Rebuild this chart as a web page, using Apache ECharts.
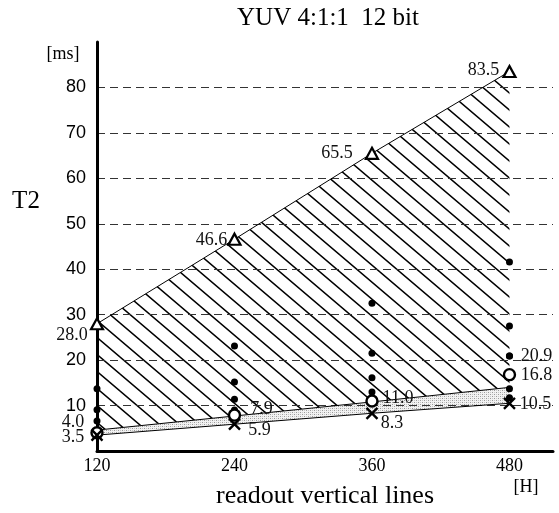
<!DOCTYPE html>
<html><head><meta charset="utf-8">
<script src="https://cdn.jsdelivr.net/npm/echarts@6/dist/echarts.min.js"></script>
<style>html,body{margin:0;padding:0;background:#fff}#c{width:559px;height:513px}</style>
</head><body><div id="c"></div>
<script>
// ---- data ----
const readoutLines = [120, 240, 360, 480];
const triangleT2 = [28.0, 46.6, 65.5, 83.5];
const circleT2 = [4.0, 7.9, 11.0, 16.8];
const crossT2 = [3.5, 5.9, 8.3, 10.5];
const bandTopT2 = [4.6, 7.7, 10.8, 14.0];
const dots120 = [13.7, 9.1, 6.6];
const dots240 = [23.1, 15.2, 11.4, 9.0];
const dots360 = [32.5, 21.5, 16.1, 13.0];
const dots480 = [41.6, 27.5, 20.9, 13.7, 11.7];
const labeledDot = [480, 20.9];

const SERIF = '"Liberation Serif", "Times New Roman", serif';
const SANS = '"Liberation Sans", Arial, sans-serif';

// ---- patterns ----
function makeHatch() {
  const w = 20, h = 17, c = document.createElement('canvas');
  c.width = w; c.height = h;
  const g = c.getContext('2d');
  g.strokeStyle = '#000'; g.lineWidth = 1.5;
  g.beginPath();
  for (const dx of [-w, 0, w]) {
    for (const dy of [-h, 0, h]) {
      g.moveTo(dx, dy); g.lineTo(dx + w, dy + h);
    }
  }
  g.stroke();
  return { image: c, repeat: 'repeat' };
}
function makeStipple() {
  const s = 4, c = document.createElement('canvas');
  c.width = s; c.height = s;
  const g = c.getContext('2d');
  g.fillStyle = '#f2f2f2'; g.fillRect(0, 0, s, s);
  g.fillStyle = '#9a9a9a';
  g.fillRect(0, 0, 1, 1); g.fillRect(2, 2, 1, 1);
  g.fillStyle = '#c8c8c8';
  g.fillRect(2, 0, 1, 1); g.fillRect(0, 2, 1, 1);
  return { image: c, repeat: 'repeat' };
}
const hatch = makeHatch();
const stipple = makeStipple();

function pts(ys) { return readoutLines.map((x, i) => [x, ys[i]]); }

const labelFont = { fontFamily: SERIF, fontSize: 18, color: '#111' };
function lab(offset) {
  return Object.assign({ show: true, position: 'inside', offset: offset, formatter: p => p.value[1].toFixed(1) }, labelFont);
}
const triOffsets = [[-25, 12], [-23, 1], [-35, 0], [-26, -1]];
const cirOffsets = [[-24, -11], [27, -6], [26, -3], [27, 1]];
const crsOffsets = [[-24, 2], [25, 6], [20, 10], [26, 1]];

const dotData = []
  .concat(dots120.map(v => [120, v]))
  .concat(dots240.map(v => [240, v]))
  .concat(dots360.map(v => [360, v]))
  .concat(dots480.map(v => [480, v]));

const chart = echarts.init(document.getElementById('c'), null, { renderer: 'canvas' });
chart.setOption({
  animation: false,
  backgroundColor: '#fff',
  grid: { left: 97, right: 6, top: 42, bottom: 62, containLabel: false },
  xAxis: {
    type: 'value', min: 120, max: 518, interval: 120,
    axisLine: { show: true, lineStyle: { color: '#000', width: 3 } },
    axisTick: { show: false },
    splitLine: { show: false },
    axisLabel: {
      margin: 6, fontFamily: SERIF, fontSize: 18, color: '#000',
      formatter: v => (v % 120 === 0 ? String(v) : '')
    }
  },
  yAxis: {
    type: 'value', min: 0, max: 90, interval: 10,
    axisLine: { show: true, lineStyle: { color: '#000', width: 3 } },
    axisTick: { show: false },
    splitLine: { show: true, showMinLine: false, showMaxLine: false, lineStyle: { color: '#333', width: 1.2, type: [8, 5] } },
    axisLabel: {
      margin: 11, fontFamily: SANS, fontSize: 18, color: '#000',
      formatter: v => (v >= 10 && v <= 80 ? String(v) : '')
    }
  },
  graphic: [
    { type: 'text', x: 328, y: 18, style: { text: 'YUV 4:1:1  12 bit', font: '25px ' + SERIF, fill: '#000', textAlign: 'center', textVerticalAlign: 'middle' } },
    { type: 'text', x: 26, y: 201, style: { text: 'T2', font: '25px ' + SERIF, fill: '#000', textAlign: 'center', textVerticalAlign: 'middle' } },
    { type: 'text', x: 63, y: 54, style: { text: '[ms]', font: '18px ' + SERIF, fill: '#000', textAlign: 'center', textVerticalAlign: 'middle' } },
    { type: 'text', x: 526, y: 487, style: { text: '[H]', font: '18px ' + SERIF, fill: '#000', textAlign: 'center', textVerticalAlign: 'middle' } },
    { type: 'text', x: 325, y: 496, style: { text: 'readout vertical lines', font: '26px ' + SERIF, fill: '#000', textAlign: 'center', textVerticalAlign: 'middle' } }
  ],
  series: [
    {
      type: 'custom', z: -1, silent: true,
      data: pts(triangleT2),
      encode: { x: 0, y: 1 },
      renderItem: function (params, api) {
        if (params.dataIndex !== 0) return;
        const top = readoutLines.map((x, i) => api.coord([x, triangleT2[i]]));
        const mid = readoutLines.map((x, i) => api.coord([x, bandTopT2[i]]));
        const bot = readoutLines.map((x, i) => api.coord([x, crossT2[i]]));
        return {
          type: 'group', children: [
            { type: 'polygon', shape: { points: top.concat(mid.slice().reverse()) }, style: { fill: hatch, stroke: null } },
            { type: 'polygon', shape: { points: mid.concat(bot.slice().reverse()) }, style: { fill: stipple, stroke: null } }
          ]
        };
      }
    },
    {
      type: 'line', data: pts(bandTopT2), symbol: 'none',
      lineStyle: { color: '#000', width: 1 }, z: 3
    },
    {
      type: 'line', data: pts(crossT2), symbol: 'none',
      lineStyle: { color: '#000', width: 1 }, z: 3
    },
    {
      type: 'scatter', data: dotData, symbol: 'circle', symbolSize: 7,
      itemStyle: { color: '#000', opacity: 1 }, z: 4
    },
    {
      type: 'scatter', data: [{ value: labeledDot, label: lab([27, 0]) }], symbol: 'circle', symbolSize: 7,
      itemStyle: { color: '#000', opacity: 1 }, z: 4
    },
    {
      type: 'line', z: 5,
      data: pts(triangleT2).map((p, i) => ({ value: p, label: lab(triOffsets[i]) })),
      symbol: 'triangle', symbolSize: [12, 11],
      itemStyle: { color: '#fff', borderColor: '#000', borderWidth: 2.2, opacity: 1 },
      lineStyle: { color: '#000', width: 1 }
    },
    {
      type: 'scatter', z: 6,
      data: pts(circleT2).map((p, i) => ({ value: p, label: lab(cirOffsets[i]) })),
      symbol: 'circle', symbolSize: 11,
      itemStyle: { color: '#fff', borderColor: '#000', borderWidth: 2.4, opacity: 1 }
    },
    {
      type: 'scatter', z: 6,
      data: pts(crossT2).map((p, i) => ({ value: p, label: lab(crsOffsets[i]) })),
      symbol: 'path://M0,0L10,10M10,0L0,10', symbolSize: 11,
      itemStyle: { color: 'none', borderColor: '#000', borderWidth: 2.4, opacity: 1 }
    }
  ]
});
</script>
</body></html>
